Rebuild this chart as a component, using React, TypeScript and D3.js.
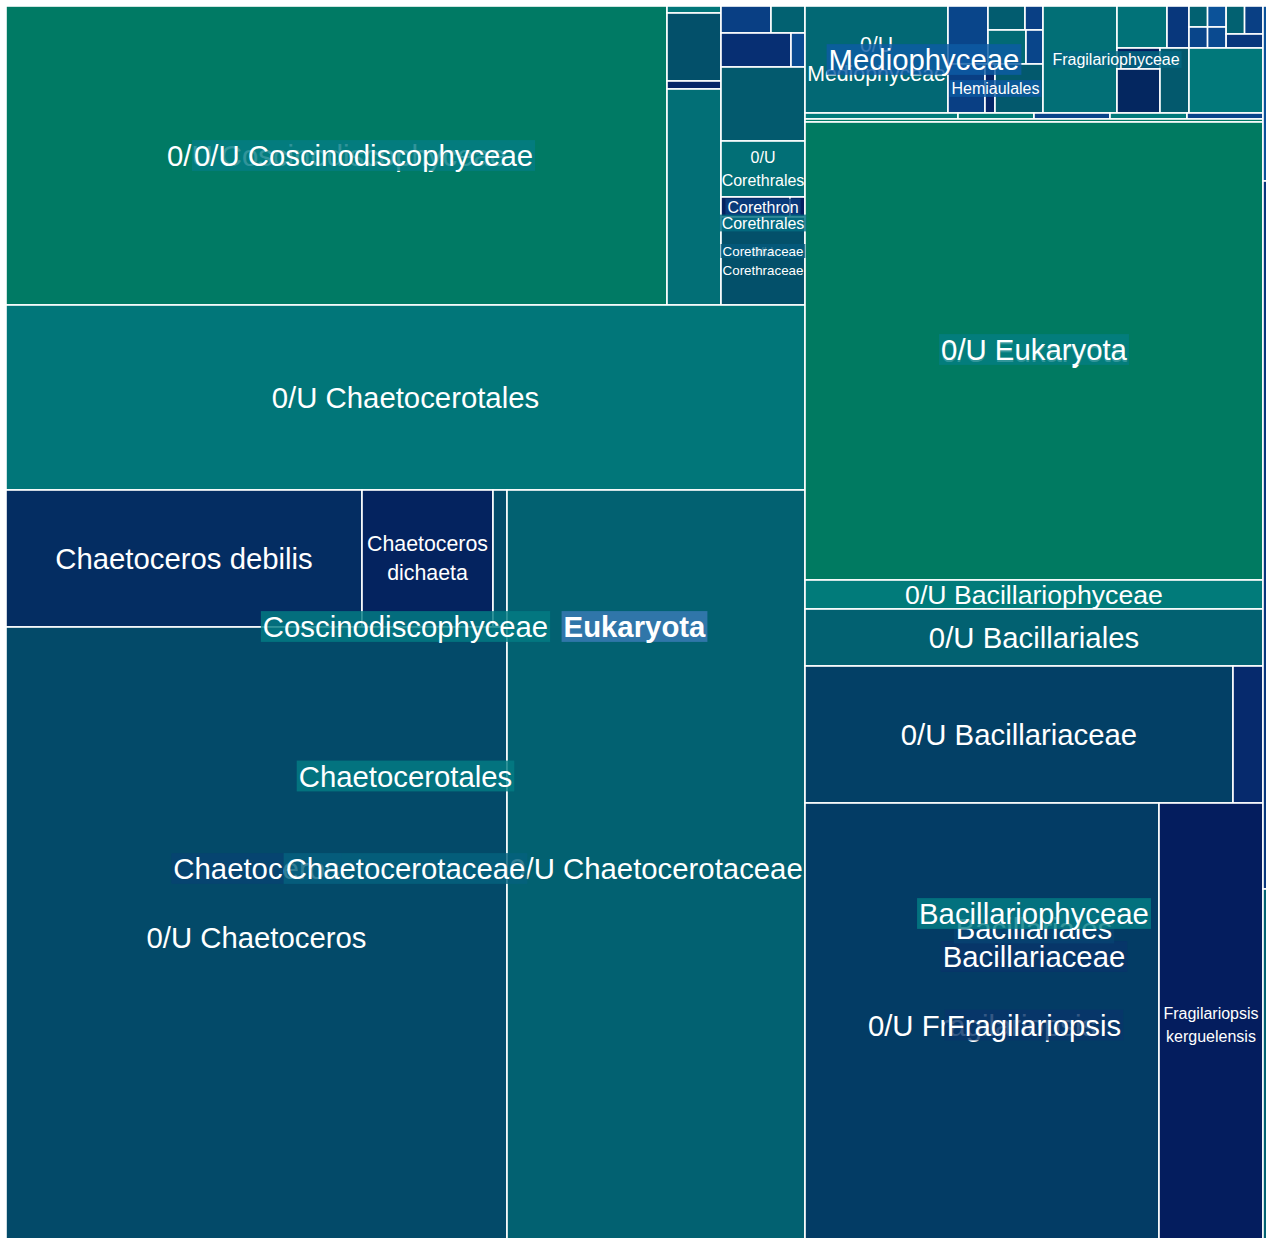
import React, { useMemo } from "react";
import * as d3 from "d3";

// [id, parentId, label, size, colour score]
type Row = [string, string, string, number, number | null];

const TOP_LEVEL: Row[] = [
  ["root", "", "", 0, null],
  ["Euk", "root", "Eukaryota", 0, -0.3],
  ["t1", "root", "", 1575, 0.05],
  ["t2", "root", "", 6372, 0.15],
  ["t3", "root", "", 3222, 0.6],
];

const EUKARYOTA_CLASSES: Row[] = [
  ["Cosc", "Euk", "Coscinodiscophyceae", 0, 0.78],
  ["Medio", "Euk", "Mediophyceae", 0, 0.02],
  ["Fragil", "Euk", "Fragilariophyceae", 0, 0.6],
  ["X", "Euk", "", 0, null],
  ["Y", "Euk", "", 0, null],
  ["W", "Euk", "0/U Eukaryota", 0, 0.8],
  ["Bacp", "Euk", "Bacillariophyceae", 0, 0.78],
];

const COSCINODISCOPHYCEAE: Row[] = [
  ["Cosc.top", "Cosc", "", 0, null],
  ["Chaetocerotales", "Cosc", "Chaetocerotales", 0, 0.78],
  ["Cosc.0U", "Cosc.top", "0/U Coscinodiscophyceae", 0, 0.78],
  ["Cosc.misc", "Cosc.top", "", 0, null],
  ["Cosc.0U.leaf", "Cosc.0U", "0/U Coscinodiscophyceae", 197639, 0.95],
  ["Cosc.0U.c", "Cosc.0U", "", 0, null],
  ["c1", "Cosc.0U.c", "", 378, 0.72],
  ["c3", "Cosc.0U.c", "", 3672, 0.5],
  ["c2", "Cosc.0U.c", "", 432, 0.22],
  ["c4", "Cosc.0U.c", "", 11664, 0.68],
];

const CORETHRALES: Row[] = [
  ["b1a", "Cosc.misc", "", 1350, 0.12],
  ["b1b", "Cosc.misc", "", 918, 0.6],
  ["b2a", "Cosc.misc", "", 2380, 0.18],
  ["b2b", "Cosc.misc", "", 476, 0.08],
  ["b3", "Cosc.misc", "", 6216, 0.56],
  ["Corethrales", "Cosc.misc", "Corethrales", 0, 0.65],
  ["Corethrales.0U", "Corethrales", "0/U Corethrales", 4704, 0.68],
  ["Corethraceae", "Corethrales", "Corethraceae", 0, 0.5],
  ["Corethron", "Corethraceae", "Corethron", 0, 0.15],
  ["Corethraceae.0U", "Corethraceae", "0/U Corethraceae", 7392, 0.5],
  ["Corethron.a", "Corethron", "", 1380, 0.27],
  ["Corethron.b", "Corethron", "", 300, 0.24],
];

const CHAETOCEROTALES: Row[] = [
  ["Chaetocerotales.0U", "Chaetocerotales", "0/U Chaetocerotales", 147815, 0.72],
  ["Chaetocerotaceae", "Chaetocerotales", "Chaetocerotaceae", 0, 0.55],
  ["Chaetoceros", "Chaetocerotaceae", "Chaetoceros", 0, 0.38],
  ["Chaetocerotaceae.0U", "Chaetocerotaceae", "0/U Chaetocerotaceae", 225586, 0.6],
  ["Chaetoceros.spp", "Chaetoceros", "", 0, null],
  ["Chaetoceros.0U", "Chaetoceros", "0/U Chaetoceros", 310620, 0.47],
  ["C.debilis", "Chaetoceros.spp", "Chaetoceros debilis", 48772, 0.33],
  ["C.dichaeta", "Chaetoceros.spp", "Chaetoceros dichaeta", 17947, 0.28],
  ["C.other", "Chaetoceros.spp", "", 1918, 0.48],
];

const MEDIOPHYCEAE: Row[] = [
  ["Medio.0U", "Medio", "0/U Mediophyceae", 15301, 0.64],
  ["Medio.a", "Medio", "", 0, null],
  ["Hemiaulales", "Medio", "Hemiaulales", 0, 0.03],
  ["m1", "Medio.a", "", 2320, 0.1],
  ["Medio.b", "Medio.a", "", 0, null],
  ["mb1", "Medio.b", "", 888, 0.57],
  ["mb2", "Medio.b", "", 432, 0.12],
  ["mb3", "Medio.b", "", 1292, 0.65],
  ["mb4", "Medio.b", "", 578, 0.1],
  ["h1", "Hemiaulales", "", 1813, 0.12],
  ["h2", "Hemiaulales", "", 490, 0.22],
  ["h3", "Hemiaulales", "", 2352, 0.55],
];

const FRAGILARIOPHYCEAE: Row[] = [
  ["Fragil.0U", "Fragil", "", 7918, 0.68],
  ["FR", "Fragil", "", 0, null],
  ["FR1", "FR", "", 0, null],
  ["FR2", "FR", "", 0, null],
  ["f1", "FR1", "", 2100, 0.7],
  ["f2", "FR1", "", 924, 0.15],
  ["FG", "FR2", "", 0, null],
  ["f6", "FR2", "", 1885, 0.55],
  ["f4", "FG", "", 903, 0.25],
  ["f5", "FG", "", 1892, 0.3],
];

const SMALL_CLASSES: Row[] = [
  ["XA", "X", "", 0, null],
  ["x8", "X", "", 4810, 0.73],
  ["xa1", "XA", "", 390, 0.6],
  ["xa2", "XA", "", 390, 0.1],
  ["xa3", "XA", "", 390, 0.05],
  ["xa4", "XA", "", 390, 0.08],
  ["xa5", "XA", "", 516, 0.6],
  ["xa6", "XA", "", 516, 0.12],
  ["xa7", "XA", "", 516, 0.15],
  ["y1", "Y", "", 918, 0.75],
  ["y2", "Y", "", 456, 0.8],
  ["y3", "Y", "", 456, 0.1],
  ["y4", "Y", "", 462, 0.74],
  ["y5", "Y", "", 456, 0.1],
  ["z", "W", "", 1374, 0.95],
  ["Euk.0U", "W", "0/U Eukaryota", 209764, 0.97],
];

const BACILLARIOPHYCEAE: Row[] = [
  ["Bacp.0U", "Bacp", "0/U Bacillariophyceae", 13282, 0.76],
  ["Bacillariales", "Bacp", "Bacillariales", 0, 0.38],
  ["Bacillariales.0U", "Bacillariales", "0/U Bacillariales", 26106, 0.6],
  ["Bacillariaceae", "Bacillariales", "Bacillariaceae", 0, 0.3],
  ["Bacillariaceae.g", "Bacillariaceae", "", 0, null],
  ["Fragilariopsis", "Bacillariaceae", "Fragilariopsis", 0, 0.3],
  ["Bacillariaceae.0U", "Bacillariaceae.g", "0/U Bacillariaceae", 58636, 0.42],
  ["n1", "Bacillariaceae.g", "", 4110, 0.2],
  ["Fragilariopsis.0U", "Fragilariopsis", "0/U Fragilariopsis", 157176, 0.4],
  ["F.kerguelensis", "Fragilariopsis", "Fragilariopsis kerguelensis", 46176, 0.25],
];

const COLOR_STOPS = [-0.3, 0, 0.25, 0.5, 0.75, 1];
const CELL_COLORS = ["#3f80bb", "#0d5fa8", "#041d5e", "#03506a", "#017b7b", "#007a5e"];
const LABEL_COLORS = ["#3b7bb6", "#0d5fa8", "#0a2a66", "#055a7c", "#047d88", "#04806a"];
const PT_SIZES = [22, 20, 18, 16, 14, 12, 10];

const WIDTH = 1266;
const HEIGHT = 1241;
const OFFSET = 6;
const FONT = '"Liberation Sans", Arial, Helvetica, sans-serif';

type Label = {
  key: string;
  cx: number;
  cy: number;
  size: number;
  lines: string[];
  width: number;
  bold: boolean;
  bg: string | null;
  depth: number;
};

export default function App() {
  const { leaves, leafLabels, nodeLabels } = useMemo(() => {
    const rows: Row[] = [
      ...TOP_LEVEL,
      ...EUKARYOTA_CLASSES,
      ...COSCINODISCOPHYCEAE,
      ...CORETHRALES,
      ...CHAETOCEROTALES,
      ...MEDIOPHYCEAE,
      ...FRAGILARIOPHYCEAE,
      ...SMALL_CLASSES,
      ...BACILLARIOPHYCEAE,
    ];
    const cellColor = d3
      .scaleLinear<string>()
      .domain(COLOR_STOPS)
      .range(CELL_COLORS)
      .interpolate(d3.interpolateRgb)
      .clamp(true);
    const labelColor = d3
      .scaleLinear<string>()
      .domain(COLOR_STOPS)
      .range(LABEL_COLORS)
      .interpolate(d3.interpolateRgb)
      .clamp(true);

    const strat = d3
      .stratify<Row>()
      .id((r) => r[0])
      .parentId((r) => (r[1] === "" ? null : r[1]))(rows);
    strat.sum((r) => r[3]);
    const root = d3
      .treemap<Row>()
      .tile(d3.treemapSquarify.ratio(1))
      .size([WIDTH, HEIGHT])
      .round(false)(strat);

    const canvas = document.createElement("canvas");
    const ctx = canvas.getContext("2d")!;
    const measure = (t: string, s: number, bold: boolean) => {
      ctx.font = `${bold ? "bold " : ""}${s}px ${FONT}`;
      return ctx.measureText(t).width;
    };
    const fit = (text: string, w: number, h: number, bold: boolean) => {
      for (const pt of PT_SIZES) {
        const s = (pt * 4) / 3;
        const single = measure(text, s, bold);
        if (single <= w - 1 && s <= h - 2) return { size: s, lines: [text], width: single };
        const words = text.split(" ");
        if (words.length > 1) {
          const lines: string[] = [];
          let cur = words[0];
          for (let i = 1; i < words.length; i++) {
            const t = cur + " " + words[i];
            if (measure(t, s, bold) <= w - 1) cur = t;
            else {
              lines.push(cur);
              cur = words[i];
            }
          }
          lines.push(cur);
          if (lines.length > 1) {
            const mw = Math.max(...lines.map((l) => measure(l, s, bold)));
            if (mw <= w - 1 && lines.length * s * 1.4 <= h) return { size: s, lines, width: mw };
          }
        }
      }
      return null;
    };

    const leaves = root.leaves().map((d) => ({
      key: d.data[0],
      x: d.x0,
      y: d.y0,
      w: d.x1 - d.x0,
      h: d.y1 - d.y0,
      fill: cellColor(d.data[4] ?? 0.5),
    }));

    const leafLabels: Label[] = [];
    const nodeLabels: Label[] = [];
    root.descendants().forEach((d) => {
      const text = d.data[2];
      if (!text) return;
      const bold = d.depth === 1;
      const f = fit(text, d.x1 - d.x0, d.y1 - d.y0, bold);
      if (!f) return;
      const lab: Label = {
        key: d.data[0],
        cx: (d.x0 + d.x1) / 2,
        cy: (d.y0 + d.y1) / 2,
        size: f.size,
        lines: f.lines,
        width: f.width,
        bold,
        bg: d.children ? labelColor(d.data[4] ?? 0.5) : null,
        depth: d.depth,
      };
      if (d.children) nodeLabels.push(lab);
      else leafLabels.push(lab);
    });
    nodeLabels.sort((a, b) => b.depth - a.depth);
    return { leaves, leafLabels, nodeLabels };
  }, []);

  const renderLabel = (l: Label) => {
    const lh = l.lines.length > 1 ? l.size * 1.4 : l.size * 1.05;
    const totalH = l.lines.length * lh;
    return (
      <g key={"lab-" + l.key}>
        {l.bg && (
          <rect
            x={l.cx - l.width / 2 - 2}
            y={l.cy - totalH / 2}
            width={l.width + 4}
            height={totalH}
            fill={l.bg}
            fillOpacity={0.82}
          />
        )}
        {l.lines.map((line, i) => (
          <text
            key={i}
            x={l.cx}
            y={l.cy + (i - (l.lines.length - 1) / 2) * lh}
            textAnchor="middle"
            dominantBaseline="central"
            fontFamily={FONT}
            fontSize={l.size}
            fontWeight={l.bold ? "bold" : "normal"}
            fill="#ffffff"
          >
            {line}
          </text>
        ))}
      </g>
    );
  };

  return (
    <div
      style={{
        position: "fixed",
        left: 0,
        top: 0,
        width: 1266,
        height: 1238,
        overflow: "hidden",
        background: "#ffffff",
      }}
    >
      <svg width={WIDTH + OFFSET} height={HEIGHT + OFFSET} style={{ display: "block" }}>
        <g transform={`translate(${OFFSET},${OFFSET})`}>
          {leaves.map((c) => (
            <rect
              key={c.key}
              x={c.x}
              y={c.y}
              width={Math.max(0, c.w)}
              height={Math.max(0, c.h)}
              fill={c.fill}
              stroke="#ffffff"
              strokeWidth={1.6}
            />
          ))}
          {leafLabels.map(renderLabel)}
          {nodeLabels.map(renderLabel)}
        </g>
      </svg>
    </div>
  );
}
